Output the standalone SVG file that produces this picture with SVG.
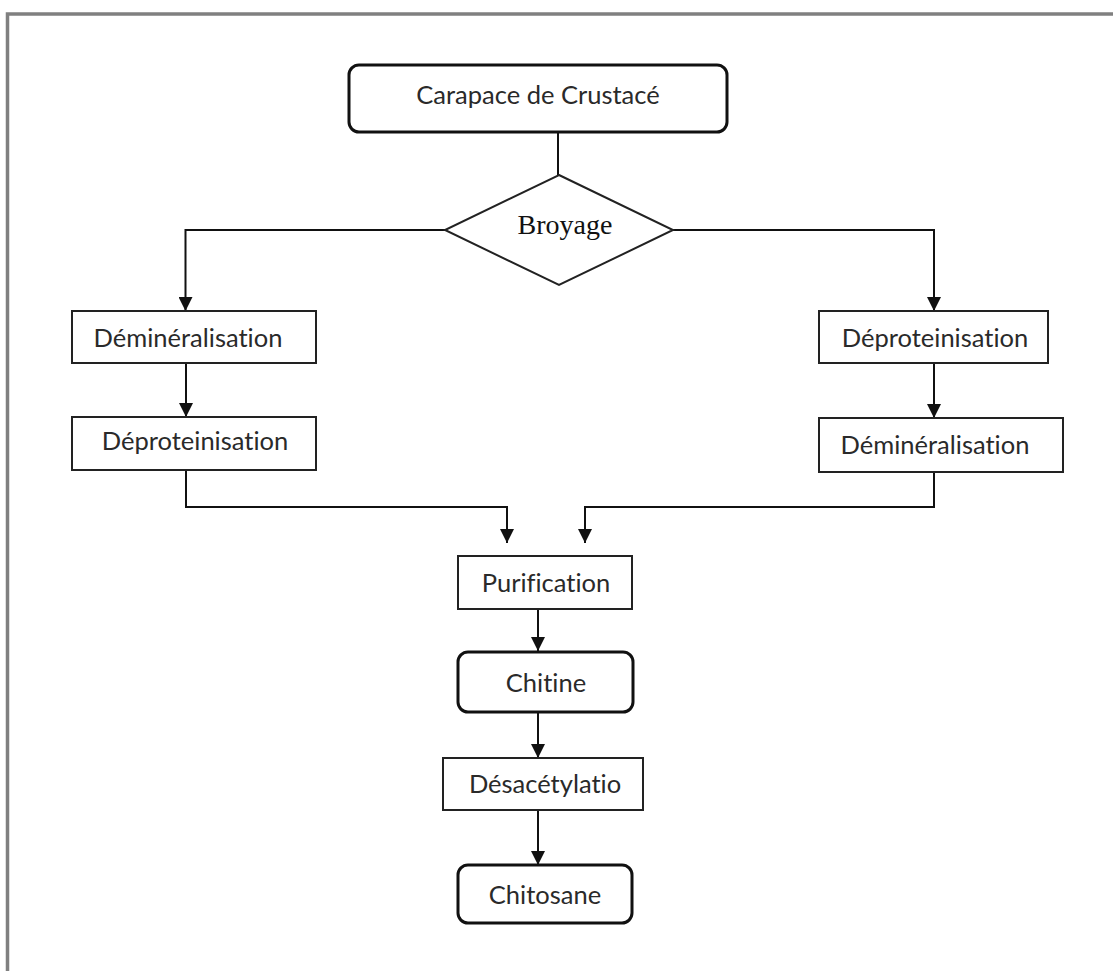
<svg xmlns="http://www.w3.org/2000/svg" width="1113" height="971" viewBox="0 0 1113 971">
<style>
.frame{fill:none;stroke:#808080;stroke-width:3.5}
.box{fill:#fff;stroke:#222;stroke-width:2}
.rbox{fill:#fff;stroke:#111;stroke-width:3}
.lbl{font-family:Lato,"Open Sans","Liberation Sans",sans-serif;font-size:25.5px;fill:#2a2a2a;text-anchor:middle;font-variant-ligatures:none;font-feature-settings:"liga" 0,"clig" 0}
.ser{font-family:"Liberation Serif","Times New Roman",serif;font-size:28px;fill:#111;text-anchor:middle}
.con{fill:none;stroke:#111;stroke-width:2}
.arr{marker-end:url(#ah)}
</style>
<defs>
<marker id="ah" markerUnits="userSpaceOnUse" markerWidth="14" markerHeight="14" viewBox="0 0 14 14" refX="14" refY="7" orient="auto">
<path d="M0,0 L14,7 L0,14 Z" fill="#111"/>
</marker>
</defs>
<rect width="1113" height="971" fill="#fff"/>
<path class="frame" d="M7.5,980 V14 H1120"/>
<g id="connectors">
<line class="con" x1="558" y1="132" x2="558" y2="175"/>
<path class="con arr" d="M445,230 H185.5 V311"/>
<path class="con arr" d="M673,230 H934 V311"/>
<line class="con arr" x1="186" y1="363" x2="186" y2="417"/>
<line class="con arr" x1="934" y1="363" x2="934" y2="418"/>
<path class="con arr" d="M186,470 V507 H507 V543"/>
<path class="con arr" d="M934,472 V507 H585 V543"/>
<line class="con arr" x1="538" y1="609" x2="538" y2="651"/>
<line class="con arr" x1="538" y1="712" x2="538" y2="758"/>
<line class="con arr" x1="538" y1="810" x2="538" y2="865"/>
</g>
<g id="carapace">
<rect class="rbox" x="349" y="65" width="378" height="67" rx="10"/>
<text class="lbl" x="538" y="104">Carapace de Crustacé</text>
</g>
<g id="broyage">
<polygon points="559,175 673,230 559,285 445,230" fill="#fff" stroke="#222" stroke-width="2"/>
<text class="ser" x="565" y="234">Broyage</text>
</g>
<g id="demin-left">
<rect class="box" x="72" y="311" width="244" height="52"/>
<text class="lbl" x="188" y="347">Déminéralisation</text>
</g>
<g id="deprot-left">
<rect class="box" x="72" y="417" width="244" height="53"/>
<text class="lbl" x="195" y="450">Déproteinisation</text>
</g>
<g id="deprot-right">
<rect class="box" x="819" y="311" width="229" height="52"/>
<text class="lbl" x="935" y="347">Déproteinisation</text>
</g>
<g id="demin-right">
<rect class="box" x="819" y="418" width="244" height="54"/>
<text class="lbl" x="935" y="454">Déminéralisation</text>
</g>
<g id="purification">
<rect class="box" x="458" y="556" width="174" height="53"/>
<text class="lbl" x="546" y="592">Purification</text>
</g>
<g id="chitine">
<rect class="rbox" x="458" y="652" width="175" height="60" rx="10"/>
<text class="lbl" x="546" y="692">Chitine</text>
</g>
<g id="desacetylation">
<rect class="box" x="443" y="758" width="200" height="52"/>
<text class="lbl" x="545" y="793">Désacétylatio</text>
</g>
<g id="chitosane">
<rect class="rbox" x="458" y="865" width="174" height="58" rx="10"/>
<text class="lbl" x="545" y="904">Chitosane</text>
</g>
</svg>
